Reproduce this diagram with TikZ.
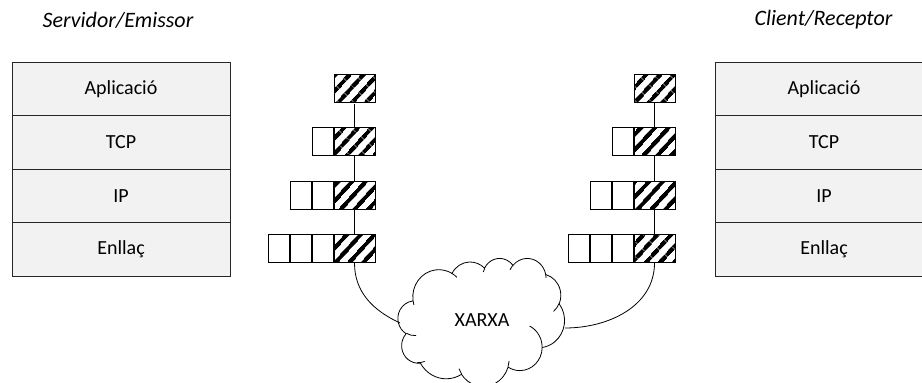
\documentclass[tikz,border=0pt]{standalone}
\usepackage{fontspec}
\setmainfont{Carlito}
\usetikzlibrary{patterns.meta}

\definecolor{layerfill}{HTML}{F2F2F2}

% one elliptic arc given by radii, visual start angle and sweep (degrees)
\newcommand*\cloudarc[4]{%
  \pgfextra{%
    \pgfmathparse{atan2((#1)*sin(#3),(#2)*cos(#3))}\xdef\cloudsa{\pgfmathresult}%
    \pgfmathparse{atan2((#1)*sin((#3)+(#4)),(#2)*cos((#3)+(#4)))}\xdef\cloudea{\pgfmathresult}%
    \pgfmathparse{mod(mod((\cloudea)-(\cloudsa),360)+360,360)}\xdef\cloudda{\pgfmathresult}%
  }%
  arc[x radius=#1, y radius=#2, start angle=\cloudsa, delta angle=\cloudda]%
}

\begin{document}
\begin{tikzpicture}[x=1pt, y=-1pt,
  txt/.style={font=\fontsize{20}{24}\selectfont},
  layer/.style={txt, draw=black!85, line width=0.9pt, fill=layerfill,
    minimum width=218pt, minimum height=53.5pt, inner sep=0pt},
  cell/.style={draw=black, line width=0.8pt, fill=white,
    minimum width=21pt, minimum height=28pt, inner sep=0pt},
  hatchcell/.style={cell, minimum width=41pt,
    pattern={Lines[angle=48, distance=10.5pt, line width=4.4pt]}},
  wire/.style={draw=black, line width=0.8pt},
  cloudline/.style={draw=black, line width=0.8pt},
  role/.style={font=\fontsize{22}{26}\selectfont\itshape}
]
\useasboundingbox (0,0) rectangle (922,383);

% role labels
\node[role] (srvlbl) at (118,20) {Servidor/Emissor};
\node[role] (clilbl) at (823.5,20) {Client/Receptor};

% protocol stacks
\node[layer] (sApp) at (121,88.75)  {Aplicació};
\node[layer] (sTcp) at (121,142.25) {TCP};
\node[layer] (sIp)  at (121,195.75) {IP};
\node[layer] (sLnk) at (121,249.25) {Enllaç};

\node[layer] (rApp) at (824,88.75)  {Aplicació};
\node[layer] (rTcp) at (824,142.25) {TCP};
\node[layer] (rIp)  at (824,195.75) {IP};
\node[layer] (rLnk) at (824,249.25) {Enllaç};

% sender side packets (data + headers)
\node[hatchcell] (sH1) at (354.5,88) {};
\node[hatchcell] (sH2) at (354.5,141.5) {};
\node[cell, anchor=east] (s2a) at (sH2.west) {};
\node[hatchcell] (sH3) at (354.5,195) {};
\node[cell, anchor=east] (s3a) at (sH3.west) {};
\node[cell, anchor=east] (s3b) at (s3a.west) {};
\node[hatchcell] (sH4) at (354.5,248.5) {};
\node[cell, anchor=east] (s4a) at (sH4.west) {};
\node[cell, anchor=east] (s4b) at (s4a.west) {};
\node[cell, anchor=east] (s4c) at (s4b.west) {};

% receiver side packets
\node[hatchcell] (rH1) at (654.5,88) {};
\node[hatchcell] (rH2) at (654.5,141.5) {};
\node[cell, anchor=east] (r2a) at (rH2.west) {};
\node[hatchcell] (rH3) at (654.5,195) {};
\node[cell, anchor=east] (r3a) at (rH3.west) {};
\node[cell, anchor=east] (r3b) at (r3a.west) {};
\node[hatchcell] (rH4) at (654.5,248.5) {};
\node[cell, anchor=east] (r4a) at (rH4.west) {};
\node[cell, anchor=east] (r4b) at (r4a.west) {};
\node[cell, anchor=east] (r4c) at (r4b.west) {};

\draw[wire] (sH1.south) -- (sH2.north) (sH2.south) -- (sH3.north) (sH3.south) -- (sH4.north);
\draw[wire] (rH1.south) -- (rH2.north) (rH2.south) -- (rH3.north) (rH3.south) -- (rH4.north);

% network cloud
\begin{scope}[shift={(398pt,-258pt)}, x=0.38542pt, y=-0.29630pt]
  \draw[cloudline, fill=white] (39.00,143.70)
    \cloudarc{67.53}{91.90}{-190.4875}{123.7805}
    \cloudarc{53.33}{72.67}{-144.1024}{89.9452}
    \cloudarc{43.65}{59.45}{-145.8079}{99.7230}
    \cloudarc{48.57}{65.95}{-130.9861}{117.2417}
    \cloudarc{53.33}{72.73}{-78.7089}{109.0269}
    \cloudarc{67.75}{92.20}{-46.2673}{130.2690}
    \cloudarc{57.85}{78.67}{0.6250}{114.0333}
    \cloudarc{67.52}{92.15}{22.4516}{115.1726}
    \cloudarc{77.20}{105.43}{66.2426}{75.7110}
    \cloudarc{43.60}{59.18}{-274.9421}{146.7356}
    \cloudarc{43.45}{59.45}{-246.8285}{152.5189}
    -- cycle;
  \draw[cloudline]
    (46.93,261.77)  \cloudarc{43.45}{59.45}{86.7420}{26.4295}
    (69.28,348.99)  \cloudarc{43.60}{59.18}{73.6105}{19.1333}
    (164.78,390.90) \cloudarc{67.52}{92.15}{137.6242}{14.0735}
    (288.27,347.51) \cloudarc{67.52}{92.15}{6.4533}{15.9984}
    (341.29,229.54) \cloudarc{57.85}{78.67}{-70.2924}{70.9174}
    (417.98,153.54) \cloudarc{53.33}{72.73}{30.3180}{27.7515}
    (383.24,54.26)  \cloudarc{48.57}{65.95}{-13.7443}{14.8589}
    (290.78,39.52)  \cloudarc{48.57}{65.95}{-149.1815}{18.1954}
    (221.41,47.20)  \cloudarc{43.65}{59.45}{-163.4943}{17.6864}
    (140.00,51.92)  \cloudarc{67.53}{91.90}{-66.7070}{12.3194}
    (41.27,157.89)  \cloudarc{67.53}{91.90}{157.6544}{11.8582};
\end{scope}
\node[txt] (xarxa) at (482,320) {XARXA};

% links to the network
\coordinate (cloudL) at (400,323);
\coordinate (cloudR) at (565,328);
\draw[wire] (sH4.south) to[out=-90, in=155] (cloudL);
\draw[wire] (rH4.south) to[out=-90, in=0] (cloudR);
\end{tikzpicture}
\end{document}
